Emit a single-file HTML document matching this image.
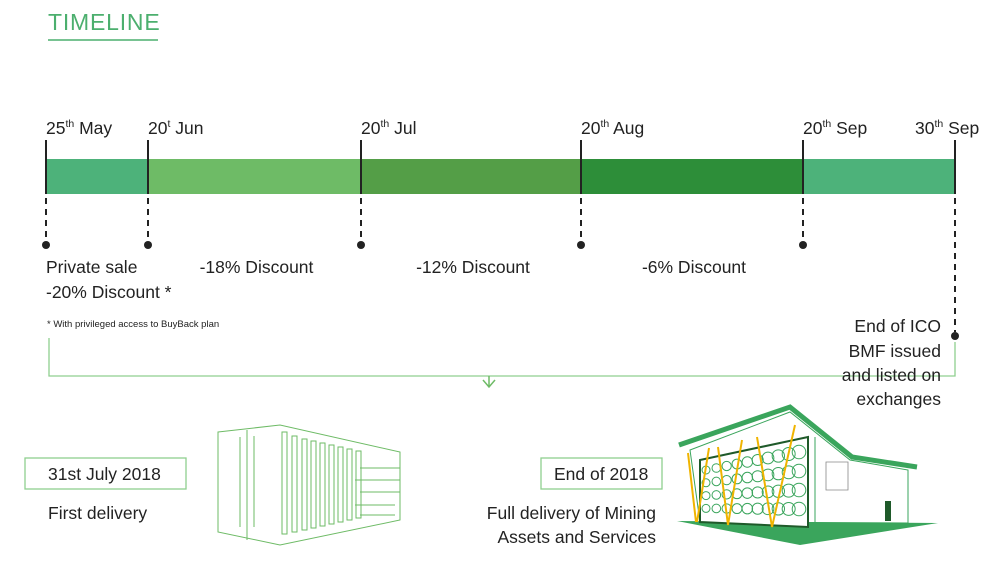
<!DOCTYPE html>
<html><head><meta charset="utf-8"><style>
body{margin:0;background:#fff;width:989px;height:571px;overflow:hidden;font-family:"Liberation Sans",sans-serif;}
svg{display:block}
text{font-family:"Liberation Sans",sans-serif;fill:#222}
</style></head><body>
<svg id="c" width="989" height="571" viewBox="0 0 989 571">
<text x="48" y="30" font-size="23" style="fill:#4caf6e" letter-spacing="0.8">TIMELINE</text>
<line x1="48" y1="40" x2="158" y2="40" stroke="#4caf6e" stroke-width="1.5"/>
<g id="bar"></g>
<g id="marks"></g>
<text x="46" y="273" font-size="17.5">Private sale</text>
<text x="46" y="298" font-size="17.5">-20% Discount *</text>
<text x="47" y="327" font-size="9.5">* With privileged access to BuyBack plan</text>
<path d="M49 338 V376 H955 V342" fill="none" stroke="#8fcf8f" stroke-width="1.3"/>
<path d="M483 380 L489 387 L495 380 M489 387 V376" fill="none" stroke="#6ebb66" stroke-width="1.5"/>
<g font-size="17.5" text-anchor="end">
<text x="941" y="332">End of ICO</text><text x="941" y="357">BMF issued</text><text x="941" y="381">and listed on</text><text x="941" y="405">exchanges</text></g>
<rect x="25" y="458" width="161" height="31" fill="none" stroke="#8fcf8f" stroke-width="1.3"/>
<text x="48" y="480" font-size="17.5">31st July 2018</text>
<text x="48" y="519" font-size="17.5">First delivery</text>
<rect x="541" y="458" width="121" height="31" fill="none" stroke="#8fcf8f" stroke-width="1.3"/>
<text x="554" y="480" font-size="17.5">End of 2018</text>
<text x="656" y="519" font-size="17.5" text-anchor="end">Full delivery of Mining</text>
<text x="656" y="543" font-size="17.5" text-anchor="end">Assets and Services</text>
<g fill="none" stroke="#6ebb66" stroke-width="1">
<path d="M218 432 L280 425 L400 452 L400 520 L280 545 L218 532 Z"/>
<line x1="247" y1="430" x2="247" y2="540"/>
<line x1="240" y1="437" x2="240" y2="527"/><line x1="254" y1="436" x2="254" y2="527"/>
<path d="M282 432 h5 v102 h-5z M292 436 h5 v96 h-5z M302 439 h5 v91 h-5z M311 441 h5 v87 h-5z M320 443 h5 v83 h-5z M329 445 h5 v79 h-5z M338 447 h5 v75 h-5z M347 449 h5 v71 h-5z M356 451 h5 v67 h-5z"/>
<path d="M360 468 h40 M355 480 h45 M360 492 h40 M355 505 h40 M360 515 h35"/>
</g>
<g>
<path d="M677 521 L938 523 L800 545 Z" fill="#3aa55c"/>
<path d="M690 450 L790 412 L850 460 L908 470 L908 523 L700 522 Z" fill="#fff" stroke="#3aa55c" stroke-width="1"/>
<line x1="815" y1="437" x2="815" y2="527" stroke="#3aa55c" stroke-width="1"/>
<path d="M679 445 L790 407 L852 457 L917 467" fill="none" stroke="#3aa55c" stroke-width="5" stroke-linejoin="miter"/>
<path d="M700 460 L808 437 L808 527 L700 522 Z" fill="#fff" stroke="#1f5a2a" stroke-width="2"/>
<g id="fans" fill="none" stroke="#3aa55c" stroke-width="1"></g>
<path d="M688 453 L696 522 M709 448 L697 522 M718 447 L728 525 M742 440 L728 525 M757 437 L772 527 M795 425 L772 527" stroke="#f0b400" stroke-width="2" fill="none"/>
<rect x="885" y="501" width="6" height="20" fill="#1f5a2a"/>
<path d="M826 462 h22 v28 h-22 z" fill="none" stroke="#888" stroke-width="0.8"/>
</g>
</svg>
<script>
const dates = ["25th May","20t Jun","20th Jul","20th Aug","20th Sep","30th Sep"];
const dayOffsets = [0, 26, 56, 87, 118, 128];
const discounts = ["", "-18% Discount", "-12% Discount", "-6% Discount", ""];
const segColors = ["#4db27a","#6ebb66","#549e47","#2d8e39","#4db27a"];
const NS="http://www.w3.org/2000/svg";
const x1=955;
const pix=[46,148,361,581,803,955];
function xScale(d){for(let i=0;i<dayOffsets.length-1;i++){if(d<=dayOffsets[i+1]){const t=(d-dayOffsets[i])/(dayOffsets[i+1]-dayOffsets[i]);return pix[i]+t*(pix[i+1]-pix[i]);}}return x1;}
const bar=document.getElementById('bar'),marks=document.getElementById('marks');
for(let i=0;i<segColors.length;i++){
 const a=xScale(dayOffsets[i]),b=xScale(dayOffsets[i+1]);
 const r=document.createElementNS(NS,'rect');
 r.setAttribute('x',a);r.setAttribute('y',159);r.setAttribute('width',b-a);r.setAttribute('height',35);r.setAttribute('fill',segColors[i]);
 
 
 bar.appendChild(r);
 if(discounts[i]){const t=document.createElementNS(NS,'text');
  t.setAttribute('x',(a+b)/2+2);t.setAttribute('y',273);t.setAttribute('font-size','17.5');t.setAttribute('text-anchor','middle');t.textContent=discounts[i];
  
  
  marks.appendChild(t);}
}
dates.forEach((d,i)=>{
 const x=xScale(dayOffsets[i]);
 const last=i===dates.length-1;
 const l=document.createElementNS(NS,'line');
 l.setAttribute('x1',x);l.setAttribute('x2',x);l.setAttribute('y1',140);l.setAttribute('y2',194);l.setAttribute('stroke','#222');l.setAttribute('stroke-width','2');
 
 
 marks.appendChild(l);
 const dl=document.createElementNS(NS,'line');
 dl.setAttribute('x1',x);dl.setAttribute('x2',x);dl.setAttribute('y1',198);dl.setAttribute('y2',last?332:242);dl.setAttribute('stroke','#222');dl.setAttribute('stroke-width','2');dl.setAttribute('stroke-dasharray','6,5');
 
 
 marks.appendChild(dl);
 const c=document.createElementNS(NS,'circle');
 c.setAttribute('cx',x);c.setAttribute('cy',last?336:245);c.setAttribute('r',4);c.setAttribute('fill','#222');
 
 
 marks.appendChild(c);
 const t=document.createElementNS(NS,'text');
 t.setAttribute('x',last?x-40:x);t.setAttribute('y',134);t.setAttribute('font-size','17.5');
 const m=d.match(/^(\d+)(\w+)\s(.*)$/);
 t.innerHTML=m[1]+'<tspan font-size="10.5" dy="-7">'+m[2]+'</tspan><tspan dy="7"> '+m[3]+'</tspan>';
 
 
 marks.appendChild(t);
});
const fans=document.getElementById('fans');
for(let r=0;r<4;r++)for(let k=0;k<10;k++){
 const f=k/9;
 const cx=706+f*93, top=470-f*18, sp=12.8+f*6.2;
 const c=document.createElementNS(NS,'circle');
 c.setAttribute('cx',cx);c.setAttribute('cy',top+r*sp);c.setAttribute('r',4+f*2.8);
 
 
 fans.appendChild(c);
}
</script>
</body></html>
